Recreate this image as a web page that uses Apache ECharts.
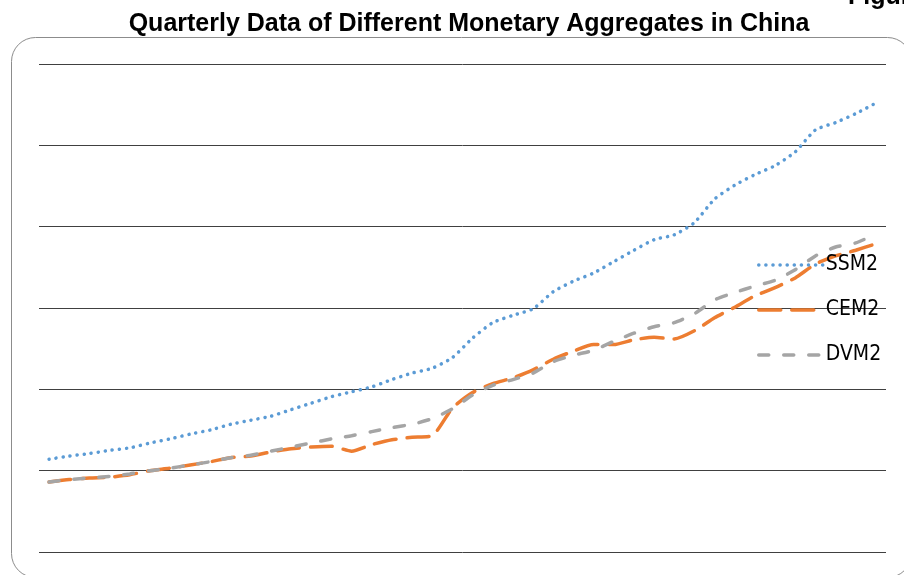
<!DOCTYPE html>
<html>
<head>
<meta charset="utf-8">
<script src="https://cdn.jsdelivr.net/npm/echarts@6/dist/echarts.min.js"></script>
<style>
html,body{margin:0;padding:0;background:#fff;}
#chart{width:904px;height:575px;}
</style>
</head>
<body>
<div id="chart"></div>
<script>
var categories = [
  '2005Q1','2005Q2','2005Q3','2005Q4','2006Q1','2006Q2','2006Q3','2006Q4',
  '2007Q1','2007Q2','2007Q3','2007Q4','2008Q1','2008Q2','2008Q3','2008Q4',
  '2009Q1','2009Q2','2009Q3','2009Q4','2010Q1','2010Q2','2010Q3','2010Q4',
  '2011Q1','2011Q2','2011Q3','2011Q4','2012Q1','2012Q2','2012Q3','2012Q4',
  '2013Q1','2013Q2','2013Q3','2013Q4','2014Q1','2014Q2','2014Q3','2014Q4',
  '2015Q1','2015Q2'
];
var ssm2 = [1.14,1.18,1.21,1.25,1.28,1.34,1.39,1.45,1.50,1.57,1.62,1.67,1.75,1.83,1.91,1.97,2.03,2.12,2.20,2.26,2.39,2.63,2.82,2.91,2.99,3.20,3.33,3.43,3.57,3.71,3.84,3.90,4.05,4.34,4.51,4.64,4.75,4.92,5.19,5.28,5.39,5.52];
var cem2 = [0.86,0.89,0.91,0.92,0.95,1.00,1.03,1.07,1.11,1.16,1.18,1.23,1.27,1.29,1.30,1.24,1.32,1.38,1.41,1.43,1.77,1.96,2.07,2.14,2.24,2.37,2.47,2.55,2.55,2.61,2.64,2.62,2.72,2.88,3.01,3.15,3.25,3.37,3.54,3.64,3.71,3.79];
var dvm2 = [0.86,0.89,0.91,0.93,0.96,1.00,1.03,1.07,1.11,1.16,1.19,1.24,1.29,1.34,1.39,1.43,1.48,1.53,1.57,1.64,1.76,1.93,2.05,2.12,2.20,2.34,2.42,2.48,2.59,2.69,2.77,2.82,2.93,3.10,3.19,3.27,3.34,3.47,3.64,3.75,3.80,3.91];
var seriesNames = ['SSM2','CEM2','DVM2'];
var titleText = 'Quarterly Data of Different Monetary Aggregates in China';

var chart = echarts.init(document.getElementById('chart'), null, {renderer:'canvas'});
var legendFont = "'DejaVu Sans Condensed','Liberation Sans Narrow','Liberation Sans',Arial,sans-serif";
chart.setOption({
  backgroundColor:'#ffffff',
  animation:false,
  title:{
    text:titleText,
    left:464, textAlign:'center', top:7,
    textStyle:{fontFamily:"'Liberation Sans',Arial,sans-serif",fontWeight:'bold',fontSize:25,color:'#000'}
  },
  graphic:[
    {type:'rect',silent:true,z:-1,shape:{x:11.5,y:37.5,width:900,height:540,r:24},
     style:{fill:'none',stroke:'#8c8c8c',lineWidth:1}},
    {type:'text',left:848,top:-15,silent:true,
     style:{text:'Figure',font:"bold 25px 'Liberation Sans',Arial,sans-serif",fill:'#000'}}
  ],
  grid:{left:39,right:18,top:64,bottom:23,containLabel:false},
  legend:{
    orient:'vertical', left:752, top:249,
    itemWidth:64, itemHeight:14, itemGap:23, itemStyle:{opacity:0},
    lineStyle:{width:3.5},
    data:seriesNames,
    textStyle:{fontFamily:legendFont,fontSize:21,color:'#000',lineHeight:22,padding:[0,0,0,-2]}
  },
  xAxis:{
    type:'category', data:categories, boundaryGap:true,
    axisLine:{show:false}, axisTick:{show:false}, axisLabel:{show:false}, splitLine:{show:false}
  },
  yAxis:{
    type:'value', min:0, max:6, interval:1,
    axisLine:{show:false}, axisTick:{show:false}, axisLabel:{show:false},
    splitLine:{show:true,lineStyle:{color:'#404040',width:1}}
  },
  series:[
    {name:'SSM2',type:'line',data:ssm2,symbol:'none',smooth:0.2,color:'#5B9BD5',
     lineStyle:{color:'#5B9BD5',width:3.5,type:[0.1,7],cap:'round'}},
    {name:'CEM2',type:'line',data:cem2,symbol:'none',smooth:0.2,color:'#ED7D31',
     lineStyle:{color:'#ED7D31',width:3.5,type:[22,11],cap:'round'}},
    {name:'DVM2',type:'line',data:dvm2,symbol:'none',smooth:0.2,color:'#A5A5A5',
     lineStyle:{color:'#A5A5A5',width:3.5,type:[10,15],cap:'round'}}
  ]
});
</script>
</body>
</html>
